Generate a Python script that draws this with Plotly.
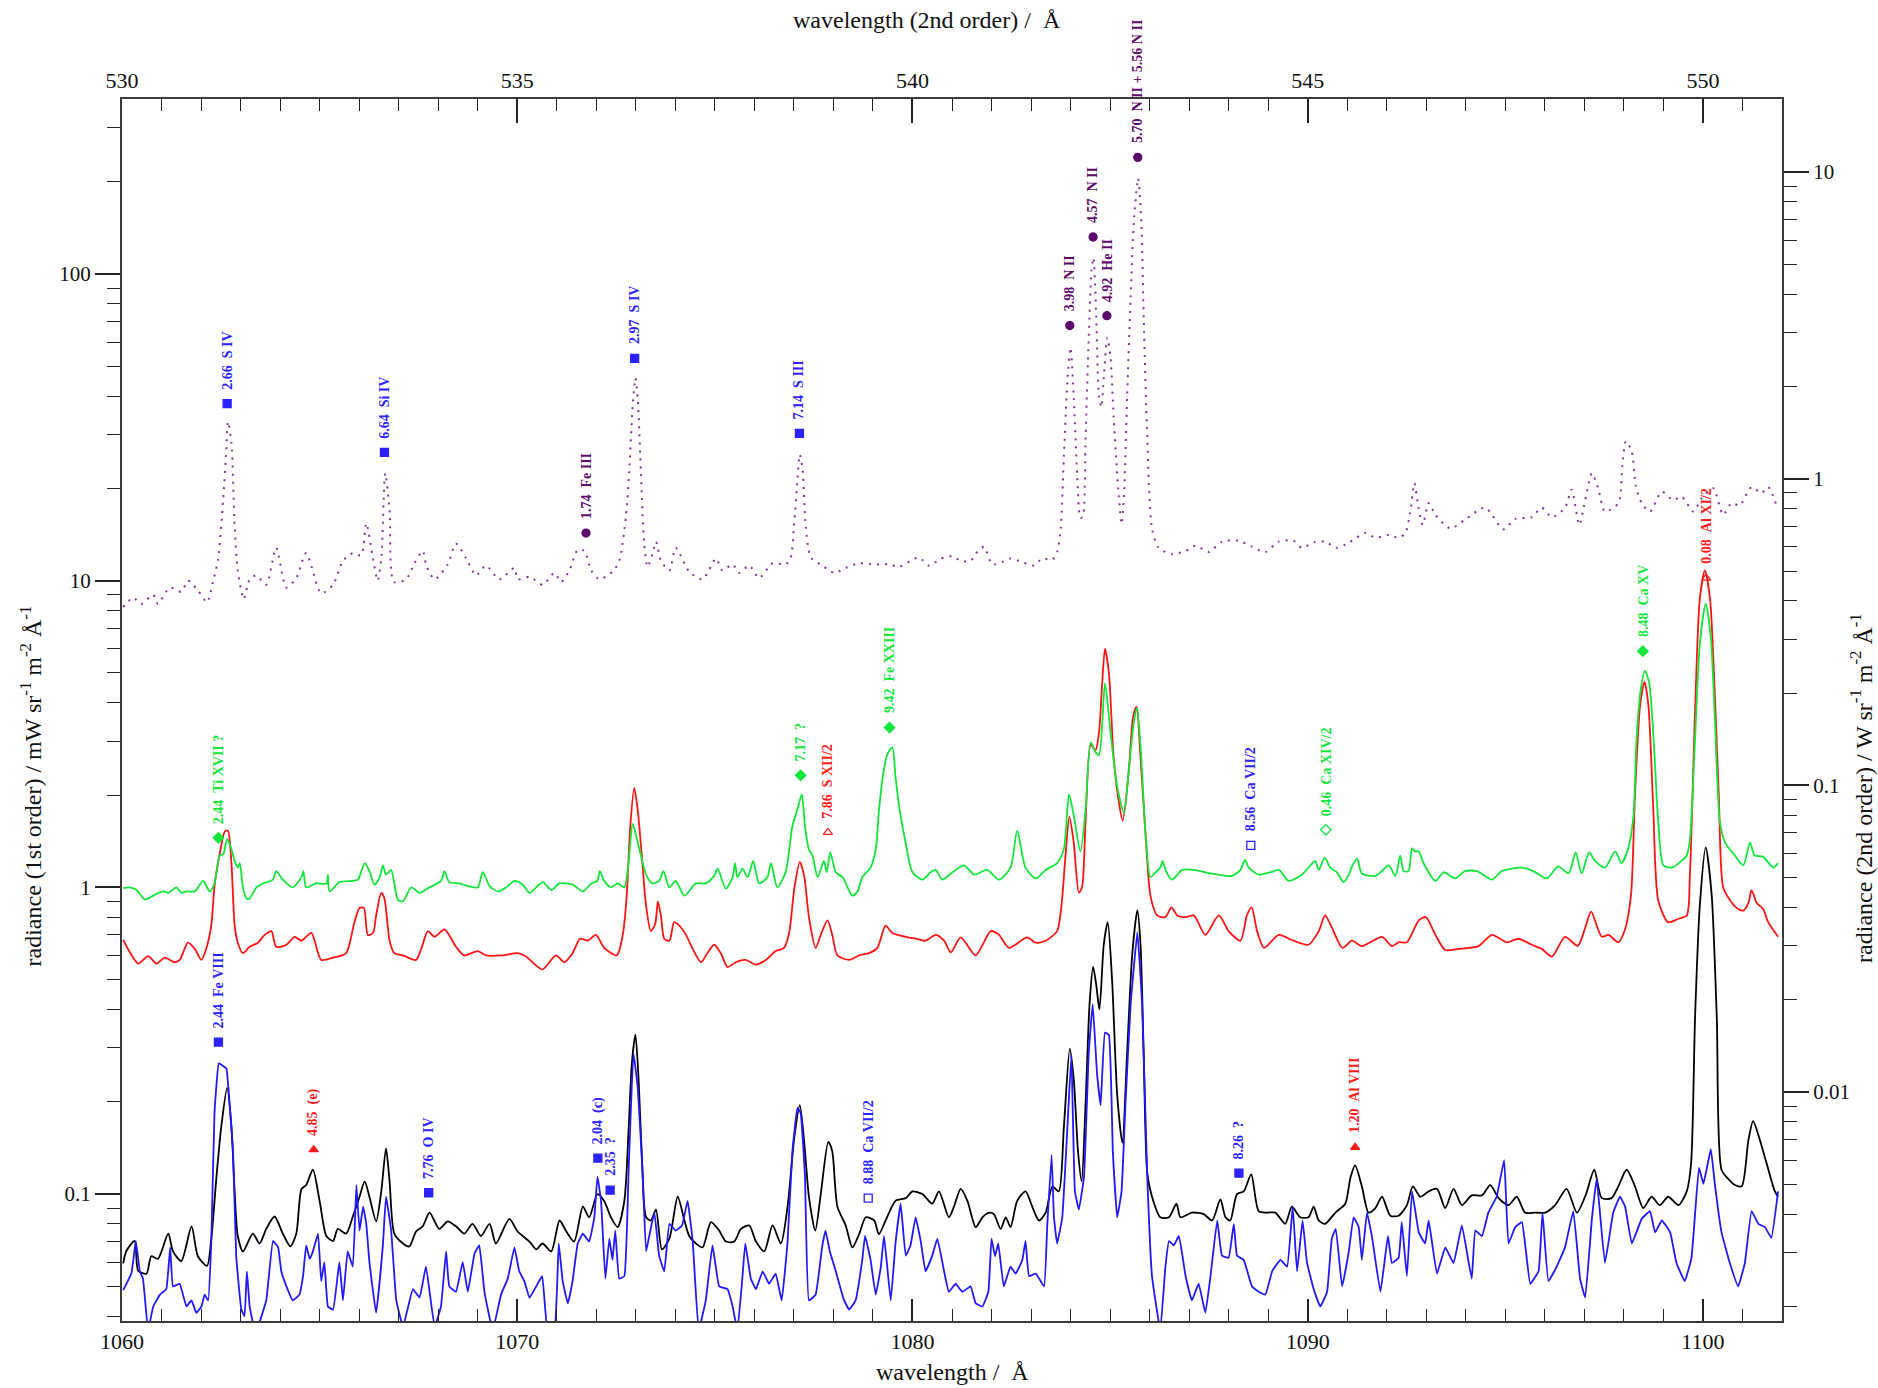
import math
import plotly.graph_objects as go

# ---------------- spectra (wavelength in Å, radiance in mW sr^-1 m^-2 Å^-1) ----------------
# reference spectrum (dotted, purple)
ref_wl = [1060.03, 1060.28, 1060.49, 1060.79, 1060.91, 1061.21, 1061.50, 1061.67, 1061.92, 1062.15,
          1062.30, 1062.43, 1062.56, 1062.64, 1062.68, 1062.77, 1062.85, 1062.93, 1063.08, 1063.23,
          1063.40, 1063.65, 1063.90, 1064.16, 1064.41, 1064.66, 1065.04, 1065.34, 1065.59, 1065.84,
          1066.05, 1066.18, 1066.35, 1066.47, 1066.56, 1066.66, 1066.77, 1066.88, 1067.19, 1067.40,
          1067.61, 1067.70, 1067.91, 1068.24, 1068.45, 1068.71, 1068.96, 1069.21, 1069.55, 1069.93,
          1070.01, 1070.31, 1070.65, 1070.94, 1071.11, 1071.32, 1071.53, 1071.70, 1071.87, 1072.08,
          1072.41, 1072.58, 1072.75, 1072.84, 1072.92, 1072.99, 1073.05, 1073.13, 1073.21, 1073.30,
          1073.42, 1073.51, 1073.64, 1073.85, 1074.01, 1074.35, 1074.69, 1075.03, 1075.19, 1075.45,
          1075.61, 1075.87, 1076.12, 1076.46, 1076.79, 1076.92, 1077.00, 1077.09, 1077.15, 1077.22,
          1077.30, 1077.43, 1077.72, 1078.02, 1078.31, 1078.65, 1078.98, 1079.41, 1079.66, 1080.16,
          1080.42, 1080.72, 1081.01, 1081.22, 1081.47, 1081.64, 1081.81, 1082.02, 1082.27, 1082.48,
          1082.78, 1083.07, 1083.28, 1083.54, 1083.66, 1083.75, 1083.83, 1083.92, 1084.00, 1084.08,
          1084.17, 1084.25, 1084.31, 1084.38, 1084.46, 1084.53, 1084.58, 1084.65, 1084.72, 1084.78,
          1084.84, 1084.93, 1085.01, 1085.09, 1085.22, 1085.29, 1085.35, 1085.43, 1085.52, 1085.60,
          1085.71, 1085.79, 1085.85, 1085.94, 1086.06, 1086.23, 1086.57, 1086.91, 1087.16, 1087.50,
          1087.83, 1088.25, 1088.59, 1088.93, 1089.26, 1089.64, 1089.85, 1090.19, 1090.44, 1090.74,
          1091.04, 1091.46, 1091.71, 1092.05, 1092.30, 1092.47, 1092.59, 1092.70, 1092.80, 1092.91,
          1093.06, 1093.23, 1093.61, 1093.98, 1094.49, 1094.95, 1095.25, 1095.67, 1095.92, 1096.18,
          1096.51, 1096.68, 1096.87, 1097.02, 1097.19, 1097.35, 1097.52, 1097.86, 1097.96, 1098.05,
          1098.20, 1098.30, 1098.45, 1098.66, 1098.96, 1099.25, 1099.46, 1099.76, 1099.97, 1100.26,
          1100.51, 1100.72, 1100.93, 1101.23, 1101.48, 1101.65, 1101.86]
ref_rad = [8.2, 8.8, 8.4, 9.0, 8.4, 9.5, 9.2, 10.0, 9.3, 8.5,
           9.9, 11.7, 18.4, 26.7, 33.0, 28.0, 15.0, 10.8, 8.7, 10.1,
           10.4, 9.7, 12.8, 9.5, 10.2, 12.3, 9.1, 9.7, 11.6, 12.3,
           12.1, 15.4, 11.8, 10.0, 11.8, 22.4, 17.0, 9.9, 10.1, 11.4,
           12.5, 11.2, 10.1, 11.3, 13.2, 11.8, 10.4, 11.2, 10.1, 11.0,
           10.1, 10.3, 9.7, 10.6, 9.9, 10.8, 12.6, 12.5, 10.8, 10.1,
           10.7, 11.6, 16.2, 23.6, 37.0, 45.8, 38.9, 22.4, 13.3, 11.1,
           12.2, 13.4, 11.6, 10.8, 12.8, 10.7, 10.1, 11.8, 10.8, 11.3,
           10.6, 11.2, 10.2, 11.4, 11.3, 11.9, 15.0, 21.3, 25.8, 23.0,
           15.0, 11.9, 11.2, 10.6, 11.0, 11.4, 11.3, 11.3, 11.1, 11.9,
           11.2, 11.8, 12.0, 11.6, 11.6, 12.4, 12.9, 11.3, 11.5, 11.8,
           11.5, 11.2, 11.8, 11.7, 12.4, 14.8, 25.3, 44.7, 57.5, 39.6,
           21.8, 16.0, 16.2, 29.4, 62.0, 103.0, 113.0, 72.0, 39.6, 36.8,
           46.0, 62.0, 53.5, 34.2, 18.8, 15.3, 18.8, 39.6, 83.6, 147.5,
           205.0, 147.5, 72.0, 29.4, 14.8, 12.8, 12.2, 12.5, 13.0, 12.4,
           13.4, 13.5, 12.9, 12.4, 13.4, 13.5, 12.8, 13.4, 13.4, 12.8,
           13.3, 14.3, 13.8, 14.1, 13.8, 14.3, 16.6, 20.8, 17.4, 15.2,
           17.9, 16.4, 14.8, 15.8, 17.3, 14.7, 15.9, 16.1, 17.3, 16.1,
           17.3, 19.8, 15.2, 18.3, 22.4, 20.0, 16.8, 17.9, 23.6, 28.5,
           26.3, 20.4, 17.9, 16.8, 19.5, 18.3, 18.8, 16.8, 18.6, 20.0,
           16.4, 17.9, 17.6, 20.2, 19.3, 20.2, 17.6]

# flare spectrum (green)
flare_wl = [1060.03, 1060.20, 1060.37, 1060.58, 1060.79, 1061.04, 1061.17, 1061.38, 1061.50, 1061.63,
            1061.84, 1062.05, 1062.22, 1062.34, 1062.47, 1062.56, 1062.66, 1062.77, 1062.85, 1062.93,
            1062.98, 1063.06, 1063.15, 1063.23, 1063.40, 1063.57, 1063.82, 1063.90, 1064.07, 1064.32,
            1064.54, 1064.59, 1064.66, 1064.91, 1065.17, 1065.21, 1065.25, 1065.50, 1065.84, 1065.97,
            1066.14, 1066.26, 1066.39, 1066.52, 1066.60, 1066.68, 1066.81, 1066.98, 1067.11, 1067.32,
            1067.53, 1067.78, 1068.07, 1068.16, 1068.28, 1068.54, 1068.75, 1069.00, 1069.13, 1069.30,
            1069.51, 1069.72, 1069.93, 1070.14, 1070.31, 1070.48, 1070.65, 1070.86, 1071.07, 1071.40,
            1071.66, 1071.87, 1072.03, 1072.09, 1072.20, 1072.37, 1072.54, 1072.71, 1072.82, 1072.92,
            1073.00, 1073.13, 1073.26, 1073.42, 1073.59, 1073.70, 1073.85, 1074.01, 1074.23, 1074.52,
            1074.77, 1074.98, 1075.07, 1075.28, 1075.45, 1075.51, 1075.57, 1075.70, 1075.83, 1075.97,
            1076.12, 1076.33, 1076.42, 1076.58, 1076.79, 1076.96, 1077.09, 1077.20, 1077.28, 1077.38,
            1077.47, 1077.60, 1077.76, 1077.83, 1077.92, 1078.06, 1078.23, 1078.48, 1078.61, 1078.73,
            1078.94, 1079.07, 1079.15, 1079.24, 1079.36, 1079.49, 1079.57, 1079.66, 1079.83, 1080.00,
            1080.25, 1080.46, 1080.59, 1080.75, 1081.01, 1081.30, 1081.56, 1081.89, 1082.19, 1082.48,
            1082.65, 1082.86, 1083.12, 1083.37, 1083.66, 1083.83, 1083.96, 1084.08, 1084.25, 1084.38,
            1084.51, 1084.63, 1084.72, 1084.87, 1085.01, 1085.18, 1085.35, 1085.47, 1085.60, 1085.68,
            1085.77, 1085.90, 1086.02, 1086.15, 1086.27, 1086.33, 1086.40, 1086.57, 1086.82, 1087.12,
            1087.41, 1087.75, 1088.09, 1088.30, 1088.41, 1088.51, 1088.76, 1089.05, 1089.27, 1089.52,
            1089.85, 1090.07, 1090.19, 1090.28, 1090.43, 1090.57, 1090.74, 1090.91, 1091.04, 1091.12,
            1091.25, 1091.37, 1091.71, 1091.88, 1092.05, 1092.22, 1092.34, 1092.43, 1092.55, 1092.64,
            1092.72, 1092.81, 1092.93, 1093.23, 1093.44, 1093.73, 1093.98, 1094.28, 1094.66, 1094.91,
            1095.42, 1095.71, 1096.05, 1096.34, 1096.60, 1096.78, 1096.93, 1097.12, 1097.27, 1097.52,
            1097.78, 1097.94, 1098.11, 1098.24, 1098.32, 1098.43, 1098.53, 1098.64, 1098.75, 1098.87,
            1099.00, 1099.21, 1099.46, 1099.59, 1099.67, 1099.80, 1099.92, 1100.07, 1100.20, 1100.30,
            1100.43, 1100.56, 1100.81, 1101.02, 1101.19, 1101.31, 1101.52, 1101.78, 1101.90]
flare_rad = [0.995, 1.0, 0.98, 0.913, 0.94, 0.97, 0.96, 1.0, 0.96, 0.97,
             0.97, 1.05, 0.97, 1.03, 1.27, 1.28, 1.44, 1.33, 1.22, 1.16,
             1.2, 1.0, 0.92, 0.92, 1.0, 1.03, 1.06, 1.13, 1.06, 1.0,
             1.08, 1.13, 1.0, 1.03, 1.03, 1.1, 0.97, 1.04, 1.05, 1.06,
             1.20, 1.13, 1.02, 1.08, 1.18, 1.1, 1.14, 0.91, 0.90, 1.0,
             0.96, 1.0, 1.05, 1.13, 1.04, 1.03, 1.01, 1.0, 1.12, 1.01,
             0.97, 1.0, 1.05, 1.02, 0.96, 1.0, 1.04, 0.98, 1.03, 1.02,
             0.97, 1.03, 1.05, 1.13, 1.05, 1.0, 1.03, 1.0, 1.22, 1.61,
             1.49, 1.27, 1.10, 1.03, 1.05, 1.13, 1.0, 1.05, 0.94, 1.03,
             1.03, 1.09, 1.15, 0.99, 1.08, 1.2, 1.08, 1.15, 1.08, 1.22,
             1.03, 1.08, 1.2, 1.0, 1.12, 1.58, 1.80, 2.01, 1.58, 1.33,
             1.27, 1.08, 1.22, 1.12, 1.30, 1.12, 1.08, 0.94, 0.97, 1.08,
             1.16, 1.33, 1.77, 2.25, 2.71, 2.86, 2.30, 1.84, 1.39, 1.12,
             1.06, 1.12, 1.14, 1.06, 1.12, 1.18, 1.10, 1.14, 1.06, 1.16,
             1.53, 1.16, 1.07, 1.14, 1.2, 1.33, 2.01, 1.72, 1.31, 1.79,
             2.97, 2.76, 2.7, 4.63, 3.2, 2.13, 1.75, 2.38, 3.45, 3.85,
             2.9, 1.47, 1.08, 1.12, 1.16, 1.22, 1.14, 1.06, 1.14, 1.14,
             1.12, 1.10, 1.09, 1.14, 1.23, 1.16, 1.10, 1.12, 1.14, 1.05,
             1.10, 1.18, 1.22, 1.14, 1.25, 1.16, 1.12, 1.04, 1.10, 1.17,
             1.24, 1.11, 1.09, 1.13, 1.18, 1.09, 1.27, 1.13, 1.13, 1.34,
             1.31, 1.31, 1.20, 1.05, 1.12, 1.07, 1.13, 1.13, 1.06, 1.13,
             1.16, 1.13, 1.07, 1.17, 1.11, 1.30, 1.11, 1.30, 1.22, 1.16,
             1.31, 1.20, 1.34, 1.70, 3.05, 4.45, 5.09, 4.64, 3.05, 1.63,
             1.18, 1.16, 1.22, 1.27, 1.43, 3.05, 6.22, 8.42, 6.5, 3.6,
             1.63, 1.40, 1.27, 1.18, 1.40, 1.27, 1.26, 1.16, 1.20]

# active-region spectrum (red)
active_wl = [1060.03, 1060.20, 1060.41, 1060.66, 1060.87, 1061.08, 1061.33, 1061.46, 1061.67, 1061.84,
             1062.01, 1062.13, 1062.26, 1062.34, 1062.47, 1062.60, 1062.68, 1062.77, 1062.85, 1062.93,
             1063.06, 1063.23, 1063.44, 1063.61, 1063.78, 1063.90, 1064.16, 1064.37, 1064.54, 1064.79,
             1065.04, 1065.34, 1065.67, 1065.88, 1066.01, 1066.12, 1066.22, 1066.35, 1066.43, 1066.56,
             1066.64, 1066.77, 1066.89, 1067.11, 1067.44, 1067.57, 1067.74, 1067.91, 1068.16, 1068.45,
             1068.66, 1069.00, 1069.21, 1069.63, 1070.01, 1070.26, 1070.45, 1070.64, 1070.98, 1071.19,
             1071.40, 1071.59, 1071.78, 1071.99, 1072.20, 1072.52, 1072.67, 1072.77, 1072.86, 1072.96,
             1073.05, 1073.16, 1073.26, 1073.38, 1073.49, 1073.56, 1073.64, 1073.72, 1073.85, 1073.97,
             1074.10, 1074.27, 1074.44, 1074.65, 1074.81, 1074.98, 1075.15, 1075.32, 1075.53, 1075.78,
             1076.04, 1076.29, 1076.54, 1076.75, 1076.88, 1077.01, 1077.15, 1077.26, 1077.38, 1077.55,
             1077.68, 1077.85, 1077.97, 1078.10, 1078.40, 1078.65, 1078.90, 1079.11, 1079.32, 1079.49,
             1079.83, 1080.08, 1080.33, 1080.59, 1080.80, 1080.97, 1081.22, 1081.60, 1081.98, 1082.19,
             1082.44, 1082.90, 1083.12, 1083.37, 1083.66, 1083.77, 1083.87, 1083.97, 1084.08, 1084.21,
             1084.29, 1084.38, 1084.51, 1084.63, 1084.72, 1084.80, 1084.87, 1084.97, 1085.09, 1085.22,
             1085.32, 1085.47, 1085.58, 1085.67, 1085.77, 1085.90, 1086.02, 1086.19, 1086.40, 1086.55,
             1086.70, 1086.91, 1087.12, 1087.41, 1087.75, 1088.00, 1088.30, 1088.46, 1088.58, 1088.72,
             1088.89, 1089.27, 1089.64, 1090.02, 1090.28, 1090.44, 1090.61, 1090.88, 1091.12, 1091.37,
             1091.88, 1092.13, 1092.30, 1092.51, 1092.81, 1092.99, 1093.23, 1093.48, 1093.82, 1094.32,
             1094.66, 1095.04, 1095.33, 1095.67, 1095.92, 1096.18, 1096.51, 1096.83, 1097.02, 1097.17,
             1097.44, 1097.61, 1097.86, 1098.03, 1098.18, 1098.28, 1098.41, 1098.52, 1098.62, 1098.74,
             1098.87, 1099.12, 1099.38, 1099.59, 1099.67, 1099.80, 1099.92, 1100.05, 1100.18, 1100.29,
             1100.40, 1100.51, 1100.68, 1100.89, 1101.02, 1101.15, 1101.23, 1101.36, 1101.52, 1101.65,
             1101.90]
active_rad = [0.674, 0.614, 0.564, 0.597, 0.564, 0.59, 0.57, 0.58, 0.66, 0.63,
              0.58, 0.63, 0.753, 1.01, 1.28, 1.52, 1.53, 1.19, 0.753, 0.66,
              0.61, 0.64, 0.66, 0.70, 0.72, 0.64, 0.65, 0.69, 0.67, 0.71,
              0.58, 0.59, 0.61, 0.77, 0.857, 0.857, 0.70, 0.71, 0.81, 0.96,
              0.92, 0.67, 0.61, 0.60, 0.58, 0.63, 0.72, 0.69, 0.73, 0.64,
              0.60, 0.62, 0.60, 0.60, 0.61, 0.59, 0.56, 0.54, 0.60, 0.57,
              0.61, 0.68, 0.67, 0.70, 0.635, 0.60, 0.70, 0.94, 1.58, 2.11,
              1.78, 1.23, 0.87, 0.72, 0.76, 0.90, 0.80, 0.68, 0.67, 0.77,
              0.75, 0.70, 0.63, 0.57, 0.61, 0.65, 0.61, 0.55, 0.57, 0.58,
              0.56, 0.58, 0.62, 0.635, 0.71, 0.99, 1.21, 1.09, 0.80, 0.635,
              0.70, 0.78, 0.70, 0.60, 0.58, 0.60, 0.61, 0.635, 0.75, 0.71,
              0.69, 0.68, 0.67, 0.70, 0.67, 0.614, 0.687, 0.60, 0.72, 0.70,
              0.635, 0.687, 0.66, 0.67, 0.72, 0.874, 1.26, 1.70, 1.40, 0.96,
              1.0, 1.65, 2.92, 2.8, 3.2, 4.63, 6.0, 5.0, 2.65, 1.9,
              1.65, 2.38, 3.58, 3.88, 2.65, 1.47, 0.94, 0.81, 0.80, 0.86,
              0.81, 0.80, 0.81, 0.70, 0.81, 0.72, 0.67, 0.81, 0.86, 0.72,
              0.635, 0.70, 0.67, 0.65, 0.72, 0.81, 0.74, 0.635, 0.67, 0.643,
              0.69, 0.643, 0.662, 0.662, 0.78, 0.80, 0.70, 0.625, 0.63, 0.643,
              0.70, 0.662, 0.68, 0.65, 0.63, 0.595, 0.69, 0.645, 0.737, 0.834,
              0.69, 0.70, 0.662, 0.73, 0.945, 2.01, 3.93, 4.68, 3.93, 1.85,
              0.905, 0.77, 0.79, 0.81, 1.1, 3.77, 8.7, 10.8, 8.7, 4.6,
              2.01, 1.0, 0.91, 0.85, 0.84, 0.89, 0.98, 0.89, 0.85, 0.77,
              0.69]

# quiet-Sun spectrum (black)
quiet_wl = [1060.03, 1060.11, 1060.32, 1060.41, 1060.62, 1060.74, 1060.91, 1061.17, 1061.29, 1061.50,
            1061.76, 1061.92, 1062.15, 1062.26, 1062.39, 1062.51, 1062.66, 1062.77, 1062.85, 1062.93,
            1063.06, 1063.31, 1063.48, 1063.65, 1063.86, 1064.07, 1064.26, 1064.41, 1064.54, 1064.66,
            1064.83, 1065.00, 1065.17, 1065.34, 1065.46, 1065.67, 1065.84, 1066.01, 1066.14, 1066.26,
            1066.43, 1066.56, 1066.68, 1066.77, 1066.89, 1067.11, 1067.27, 1067.44, 1067.61, 1067.78,
            1068.03, 1068.24, 1068.45, 1068.66, 1068.87, 1069.08, 1069.30, 1069.46, 1069.80, 1070.01,
            1070.31, 1070.48, 1070.64, 1070.86, 1071.07, 1071.23, 1071.44, 1071.66, 1071.82, 1072.03,
            1072.20, 1072.37, 1072.54, 1072.71, 1072.82, 1072.90, 1072.99, 1073.07, 1073.16, 1073.26,
            1073.38, 1073.51, 1073.66, 1073.85, 1074.06, 1074.23, 1074.35, 1074.52, 1074.69, 1074.90,
            1075.11, 1075.28, 1075.49, 1075.66, 1075.87, 1076.04, 1076.25, 1076.46, 1076.67, 1076.84,
            1077.01, 1077.15, 1077.26, 1077.38, 1077.54, 1077.68, 1077.87, 1077.97, 1078.10, 1078.31,
            1078.48, 1078.65, 1078.82, 1079.03, 1079.15, 1079.32, 1079.57, 1079.83, 1080.00, 1080.25,
            1080.50, 1080.67, 1080.92, 1081.05, 1081.22, 1081.39, 1081.60, 1081.77, 1081.94, 1082.06,
            1082.23, 1082.36, 1082.48, 1082.65, 1082.86, 1083.03, 1083.20, 1083.37, 1083.54, 1083.70,
            1083.83, 1083.98, 1084.08, 1084.19, 1084.28, 1084.38, 1084.48, 1084.57, 1084.65, 1084.73,
            1084.84, 1084.94, 1085.05, 1085.18, 1085.31, 1085.43, 1085.56, 1085.69, 1085.77, 1085.85,
            1085.94, 1086.06, 1086.27, 1086.49, 1086.68, 1086.78, 1087.07, 1087.37, 1087.58, 1087.79,
            1087.92, 1088.04, 1088.21, 1088.38, 1088.57, 1088.76, 1088.97, 1089.18, 1089.43, 1089.60,
            1089.81, 1090.02, 1090.15, 1090.28, 1090.44, 1090.70, 1090.95, 1091.08, 1091.20, 1091.37,
            1091.54, 1091.71, 1091.88, 1092.09, 1092.30, 1092.51, 1092.66, 1092.85, 1093.06, 1093.27,
            1093.48, 1093.69, 1093.90, 1094.15, 1094.41, 1094.62, 1094.83, 1095.08, 1095.29, 1095.50,
            1095.75, 1096.01, 1096.26, 1096.55, 1096.81, 1097.03, 1097.25, 1097.44, 1097.69, 1097.86,
            1098.07, 1098.28, 1098.49, 1098.70, 1098.91, 1099.12, 1099.38, 1099.59, 1099.70, 1099.80,
            1099.92, 1100.07, 1100.22, 1100.35, 1100.47, 1100.64, 1100.81, 1100.98, 1101.15, 1101.27,
            1101.44, 1101.61, 1101.82, 1101.90]
quiet_rad = [0.0594, 0.0652, 0.0703, 0.0562, 0.055, 0.0627, 0.0615, 0.0743, 0.065, 0.0605,
             0.0785, 0.0627, 0.0583, 0.0716, 0.1138, 0.165, 0.222, 0.165, 0.102, 0.073,
             0.065, 0.0743, 0.069, 0.077, 0.0845, 0.0743, 0.0675, 0.0743, 0.1037, 0.107,
             0.12, 0.095, 0.073, 0.0703, 0.077, 0.0743, 0.0845, 0.098, 0.110, 0.098,
             0.0815, 0.102, 0.141, 0.11, 0.0743, 0.069, 0.0675, 0.0755, 0.0785, 0.087,
             0.077, 0.0815, 0.0785, 0.0743, 0.08, 0.073, 0.08, 0.069, 0.083, 0.0755,
             0.070, 0.066, 0.069, 0.065, 0.082, 0.076, 0.070, 0.091, 0.084, 0.100,
             0.095, 0.084, 0.078, 0.095, 0.165, 0.267, 0.331, 0.237, 0.127, 0.084,
             0.082, 0.089, 0.066, 0.0716, 0.098, 0.082, 0.073, 0.069, 0.067, 0.081,
             0.076, 0.070, 0.070, 0.077, 0.079, 0.070, 0.065, 0.079, 0.069, 0.091,
             0.153, 0.195, 0.148, 0.098, 0.076, 0.100, 0.148, 0.138, 0.091, 0.079,
             0.067, 0.074, 0.084, 0.082, 0.074, 0.082, 0.095, 0.097, 0.102, 0.100,
             0.093, 0.102, 0.084, 0.091, 0.104, 0.095, 0.078, 0.084, 0.087, 0.086,
             0.077, 0.084, 0.078, 0.095, 0.102, 0.091, 0.082, 0.087, 0.106, 0.102,
             0.165, 0.298, 0.237, 0.137, 0.11, 0.198, 0.416, 0.55, 0.48, 0.40,
             0.65, 0.77, 0.50, 0.21, 0.147, 0.288, 0.605, 0.842, 0.65, 0.288,
             0.117, 0.098, 0.084, 0.084, 0.093, 0.084, 0.087, 0.086, 0.082, 0.096,
             0.084, 0.082, 0.100, 0.102, 0.116, 0.088, 0.087, 0.087, 0.080, 0.091,
             0.084, 0.084, 0.091, 0.082, 0.080, 0.087, 0.093, 0.113, 0.124, 0.106,
             0.087, 0.09, 0.098, 0.085, 0.085, 0.092, 0.106, 0.098, 0.102, 0.104,
             0.09, 0.104, 0.092, 0.099, 0.099, 0.107, 0.097, 0.092, 0.098, 0.087,
             0.087, 0.087, 0.092, 0.104, 0.087, 0.099, 0.12, 0.097, 0.097, 0.106,
             0.12, 0.106, 0.09, 0.098, 0.092, 0.098, 0.092, 0.102, 0.126, 0.376,
             0.869, 1.35, 0.947, 0.376, 0.12, 0.112, 0.107, 0.106, 0.150, 0.173,
             0.15, 0.126, 0.102, 0.098]

# coronal-hole spectrum (blue)
hole_wl = [1060.03, 1060.24, 1060.35, 1060.45, 1060.53, 1060.66, 1060.79, 1060.96, 1061.12, 1061.22,
           1061.29, 1061.46, 1061.63, 1061.76, 1061.88, 1062.01, 1062.09, 1062.18, 1062.26, 1062.34,
           1062.45, 1062.55, 1062.64, 1062.72, 1062.81, 1062.89, 1063.02, 1063.10, 1063.16, 1063.23,
           1063.36, 1063.44, 1063.65, 1063.82, 1063.95, 1064.03, 1064.16, 1064.32, 1064.49, 1064.58,
           1064.66, 1064.75, 1064.83, 1064.96, 1065.04, 1065.12, 1065.21, 1065.34, 1065.50, 1065.59,
           1065.71, 1065.84, 1065.93, 1066.01, 1066.10, 1066.18, 1066.26, 1066.43, 1066.60, 1066.68,
           1066.81, 1066.94, 1067.11, 1067.36, 1067.53, 1067.69, 1067.91, 1068.07, 1068.20, 1068.28,
           1068.45, 1068.62, 1068.75, 1068.92, 1069.04, 1069.17, 1069.38, 1069.59, 1069.76, 1069.93,
           1070.05, 1070.18, 1070.31, 1070.48, 1070.63, 1070.77, 1070.94, 1071.05, 1071.15, 1071.28,
           1071.40, 1071.53, 1071.66, 1071.82, 1071.95, 1072.03, 1072.12, 1072.23, 1072.33, 1072.41,
           1072.48, 1072.58, 1072.71, 1072.82, 1072.94, 1073.05, 1073.17, 1073.26, 1073.34, 1073.47,
           1073.59, 1073.72, 1073.85, 1074.01, 1074.17, 1074.31, 1074.44, 1074.59, 1074.77, 1074.94,
           1075.11, 1075.32, 1075.45, 1075.57, 1075.70, 1075.77, 1075.91, 1076.04, 1076.21, 1076.37,
           1076.54, 1076.69, 1076.84, 1076.96, 1077.09, 1077.17, 1077.28, 1077.38, 1077.55, 1077.72,
           1077.80, 1077.91, 1078.06, 1078.27, 1078.40, 1078.56, 1078.73, 1078.80, 1078.94, 1079.07,
           1079.20, 1079.28, 1079.45, 1079.57, 1079.70, 1079.83, 1079.95, 1080.08, 1080.21, 1080.33,
           1080.50, 1080.63, 1080.80, 1080.92, 1081.09, 1081.26, 1081.47, 1081.60, 1081.77, 1081.92,
           1082.00, 1082.09, 1082.17, 1082.31, 1082.48, 1082.61, 1082.78, 1082.86, 1082.95, 1083.12,
           1083.33, 1083.41, 1083.52, 1083.58, 1083.66, 1083.79, 1083.92, 1084.02, 1084.11, 1084.21,
           1084.34, 1084.46, 1084.56, 1084.67, 1084.76, 1084.87, 1084.97, 1085.07, 1085.18, 1085.29,
           1085.39, 1085.52, 1085.69, 1085.81, 1085.94, 1086.06, 1086.27, 1086.40, 1086.49, 1086.61,
           1086.74, 1086.91, 1087.07, 1087.24, 1087.41, 1087.54, 1087.71, 1087.83, 1088.00, 1088.13,
           1088.21, 1088.38, 1088.59, 1088.76, 1088.93, 1089.10, 1089.31, 1089.48, 1089.62, 1089.73,
           1089.87, 1089.98, 1090.15, 1090.32, 1090.49, 1090.61, 1090.71, 1090.87, 1091.04, 1091.16,
           1091.29, 1091.37, 1091.50, 1091.63, 1091.84, 1092.03, 1092.13, 1092.30, 1092.38, 1092.51,
           1092.64, 1092.81, 1092.97, 1093.06, 1093.27, 1093.48, 1093.69, 1093.90, 1094.15, 1094.24,
           1094.41, 1094.57, 1094.78, 1094.97, 1095.08, 1095.25, 1095.42, 1095.63, 1095.84, 1095.94,
           1096.09, 1096.30, 1096.51, 1096.72, 1096.89, 1097.02, 1097.19, 1097.31, 1097.52, 1097.73,
           1097.90, 1098.03, 1098.20, 1098.45, 1098.66, 1098.79, 1098.96, 1099.17, 1099.33, 1099.54,
           1099.71, 1099.90, 1100.01, 1100.09, 1100.20, 1100.30, 1100.47, 1100.68, 1100.89, 1101.06,
           1101.23, 1101.40, 1101.57, 1101.73, 1101.90]
hole_rad = [0.0486, 0.0553, 0.0703, 0.056, 0.053, 0.036, 0.043, 0.047, 0.049, 0.067,
            0.05, 0.051, 0.043, 0.045, 0.041, 0.043, 0.047, 0.045, 0.0703, 0.184,
            0.267, 0.262, 0.257, 0.2, 0.137, 0.0627, 0.042, 0.040, 0.056, 0.043,
            0.036, 0.037, 0.045, 0.0703, 0.067, 0.056, 0.05, 0.045, 0.047, 0.054,
            0.068, 0.0615, 0.065, 0.0743, 0.052, 0.06, 0.043, 0.042, 0.06, 0.045,
            0.065, 0.058, 0.107, 0.076, 0.091, 0.08, 0.06, 0.041, 0.068, 0.098,
            0.076, 0.045, 0.037, 0.049, 0.046, 0.058, 0.037, 0.043, 0.065, 0.05,
            0.048, 0.06, 0.048, 0.064, 0.068, 0.048, 0.036, 0.047, 0.053, 0.067,
            0.056, 0.052, 0.0459, 0.05, 0.054, 0.036, 0.036, 0.069, 0.052, 0.044,
            0.052, 0.069, 0.0743, 0.070, 0.084, 0.114, 0.095, 0.053, 0.0716, 0.061,
            0.076, 0.053, 0.054, 0.122, 0.287, 0.222, 0.118, 0.065, 0.073, 0.087,
            0.063, 0.056, 0.080, 0.076, 0.079, 0.095, 0.070, 0.036, 0.045, 0.068,
            0.050, 0.049, 0.043, 0.036, 0.054, 0.069, 0.053, 0.049, 0.056, 0.051,
            0.055, 0.045, 0.070, 0.137, 0.191, 0.184, 0.114, 0.045, 0.047, 0.068,
            0.076, 0.065, 0.056, 0.045, 0.042, 0.045, 0.061, 0.073, 0.061, 0.047,
            0.058, 0.073, 0.045, 0.069, 0.093, 0.063, 0.068, 0.084, 0.070, 0.056,
            0.063, 0.0716, 0.056, 0.048, 0.051, 0.048, 0.050, 0.044, 0.043, 0.048,
            0.0716, 0.0627, 0.069, 0.050, 0.058, 0.055, 0.061, 0.0703, 0.054, 0.055,
            0.050, 0.079, 0.134, 0.084, 0.069, 0.084, 0.165, 0.284, 0.102, 0.089,
            0.114, 0.288, 0.416, 0.247, 0.195, 0.336, 0.33, 0.137, 0.084, 0.102,
            0.198, 0.416, 0.713, 0.416, 0.114, 0.054, 0.036, 0.058, 0.0703, 0.068,
            0.073, 0.054, 0.045, 0.051, 0.041, 0.054, 0.082, 0.063, 0.062, 0.080,
            0.063, 0.061, 0.050, 0.048, 0.047, 0.056, 0.061, 0.058, 0.091, 0.056,
            0.082, 0.060, 0.049, 0.043, 0.048, 0.0716, 0.077, 0.050, 0.065, 0.084,
            0.078, 0.061, 0.087, 0.072, 0.048, 0.073, 0.0596, 0.062, 0.081, 0.054,
            0.102, 0.075, 0.069, 0.082, 0.055, 0.067, 0.0596, 0.079, 0.053, 0.076,
            0.073, 0.087, 0.098, 0.129, 0.069, 0.078, 0.081, 0.051, 0.056, 0.087,
            0.052, 0.058, 0.067, 0.088, 0.053, 0.046, 0.083, 0.112, 0.0596, 0.087,
            0.098, 0.091, 0.069, 0.083, 0.088, 0.075, 0.082, 0.075, 0.0596, 0.052,
            0.062, 0.122, 0.108, 0.12, 0.140, 0.108, 0.075, 0.0596, 0.050, 0.0596,
            0.088, 0.080, 0.078, 0.072, 0.102]

# ---------------- line identifications ----------------
line_wl = [1062.66, 1066.64, 1071.74, 1072.97, 1077.14, 1083.98, 1084.57, 1084.92, 1085.70,
           1062.44, 1077.17, 1079.42, 1098.48, 1090.46, 1088.56,
           1077.86, 1100.08, 1064.85, 1091.20,
           1062.44, 1067.76, 1072.04, 1072.35, 1078.88, 1088.26]
line_rad = [37.8, 26.2, 14.3, 53.1, 30.2, 67.9, 132.0, 73.1, 240.0,
            1.45, 2.32, 3.32, 5.89, 1.54, 1.37,
            1.51, 10.2, 0.1395, 0.142,
            0.313, 0.101, 0.131, 0.103, 0.097, 0.117]
line_ion = ["S IV", "Si IV", "Fe III", "S IV", "S III", "N II", "N II", "He II", "N II + 5.56 N II",
            "Ti XVII ?", "?", "Fe XXIII", "Ca XV", "Ca XIV/2", "Ca VII/2",
            "S XII/2", "Al XI/2", "(e)", "Al VIII",
            "Fe VIII", "O IV", "(c)", "?", "Ca VII/2", "?"]
line_kind = ["b", "b", "p", "b", "b", "p", "p", "p", "p",
             "g", "g", "g", "g", "g", "b",
             "r", "r", "r", "r",
             "b", "b", "b", "b", "b", "b"]
line_symbol = ["square", "square", "circle", "square", "square", "circle", "circle", "circle", "circle",
               "diamond", "diamond", "diamond", "diamond", "diamond-open", "square-open",
               "triangle-up-open", "triangle-up-open", "triangle-up", "triangle-up",
               "square", "square", "square", "square", "square-open", "square"]

# conversion of 1st-order radiance (mW) to 2nd-order radiance (W) for the right-hand axis
second_order_factor = 21.5

# ---------------- styling ----------------
FONT = "Liberation Serif"
LINE_COL = {"ref": "#7b3a96", "flare": "#12e63a", "active": "#ff1414",
            "quiet": "#000000", "hole": "#2218ff"}
LABEL_COL = {"b": "#2b22ff", "p": "#5c0a6c", "g": "#14e63c", "r": "#ff1a1a"}
AXIS_COL = "#3a3a3a"

fig = go.Figure()


def spectrum(x, y, color, width=1.8, dash=None, smooth=0.7):
    line = dict(color=color, width=width, shape="spline", smoothing=smooth)
    if dash:
        line["dash"] = dash
    return go.Scatter(x=x, y=y, mode="lines", line=line, hoverinfo="skip")


fig.add_trace(spectrum(quiet_wl, quiet_rad, LINE_COL["quiet"]))
fig.add_trace(spectrum(hole_wl, hole_rad, LINE_COL["hole"], smooth=0.3))
fig.add_trace(spectrum(active_wl, active_rad, LINE_COL["active"]))
fig.add_trace(spectrum(flare_wl, flare_rad, LINE_COL["flare"]))
fig.add_trace(spectrum(ref_wl, ref_rad, LINE_COL["ref"], width=2, dash="2px,6px"))

# identification markers
marker_cols = [LABEL_COL[k] for k in line_kind]
fig.add_trace(go.Scatter(
    x=line_wl, y=line_rad, mode="markers", hoverinfo="skip", cliponaxis=False,
    marker=dict(symbol=line_symbol, color=marker_cols, size=8,
                line=dict(color=marker_cols, width=1.3))))

# empty trace so that the 2nd-order axes get their own subplot
fig.add_trace(go.Scatter(x=[], y=[], xaxis="x2", yaxis="y2", hoverinfo="skip"))

# rotated identification labels above each marker
for wl, rad, ion, kind in zip(line_wl, line_rad, line_ion, line_kind):
    fig.add_annotation(
        x=wl, y=math.log10(rad), xref="x", yref="y",
        text="<b>{:.2f}\u00a0\u00a0{}</b>".format(wl % 10, ion.replace(" ", "\u00a0")),
        textangle=-90, showarrow=False, xanchor="center", yanchor="bottom", yshift=12,
        font=dict(family=FONT, size=14, color=LABEL_COL[kind]))

# axis ranges
x_lo, x_hi = 1060.0, 1102.0
y_lo, y_hi = -1.4139, 2.5705
shift = math.log10(second_order_factor)

axis_common = dict(showgrid=False, zeroline=False, showline=True, linecolor=AXIS_COL,
                   linewidth=2, tickcolor="#222222", tickwidth=1.5,
                   tickfont=dict(family=FONT, size=22, color="#111111"))
ytick_font = dict(family=FONT, size=21, color="#111111")

fig.update_layout(
    width=1878, height=1388,
    margin=dict(l=122, r=96, t=99, b=67),
    paper_bgcolor="white", plot_bgcolor="white",
    showlegend=False,
    xaxis=dict(range=[x_lo, x_hi], tickmode="linear", tick0=1060, dtick=10,
               ticks="inside", ticklen=22,
               minor=dict(dtick=1, tick0=1060, ticks="inside", ticklen=12,
                          tickcolor="#222222", tickwidth=1.2),
               **axis_common),
    xaxis2=dict(range=[x_lo / 2, x_hi / 2], overlaying="x", side="top", anchor="y",
                tickmode="linear", tick0=530, dtick=5, ticks="inside", ticklen=24,
                minor=dict(dtick=0.5, tick0=530, ticks="inside", ticklen=12,
                           tickcolor="#222222", tickwidth=1.2),
                **axis_common),
    yaxis=dict(type="log", range=[y_lo, y_hi], dtick=1, ticks="outside", ticklen=25,
               minor=dict(ticks="outside", ticklen=13, dtick="D1",
                          tickcolor="#222222", tickwidth=1.2),
               **{**axis_common, "tickfont": ytick_font}),
    yaxis2=dict(type="log", range=[y_lo - shift, y_hi - shift], overlaying="y", side="right",
                anchor="x", dtick=1, ticks="outside", ticklen=25,
                minor=dict(ticks="outside", ticklen=13, dtick="D1",
                           tickcolor="#222222", tickwidth=1.2),
                **{**axis_common, "tickfont": ytick_font}),
)

title_font = dict(family=FONT, size=24, color="#111111")
fig.add_annotation(text="wavelength /  Å", xref="paper", yref="paper", x=0.5, y=-0.042,
                   showarrow=False, xanchor="center", yanchor="middle", font=title_font)
fig.add_annotation(text="wavelength (2nd order) /  Å", xref="paper", yref="paper",
                   x=0.485, y=1.065, showarrow=False, xanchor="center", yanchor="middle",
                   font=title_font)
fig.add_annotation(text="radiance (1st order) / mW sr<sup>-1</sup> m<sup>-2</sup> Å<sup>-1</sup>",
                   xref="paper", yref="paper", x=-0.055, y=0.438, textangle=-90,
                   showarrow=False, xanchor="center", yanchor="middle", font=title_font)
fig.add_annotation(text="radiance (2nd order) / W sr<sup>-1</sup> m<sup>-2</sup> Å<sup>-1</sup>",
                   xref="paper", yref="paper", x=1.048, y=0.436, textangle=-90,
                   showarrow=False, xanchor="center", yanchor="middle", font=title_font)

fig.write_html("out.html")
